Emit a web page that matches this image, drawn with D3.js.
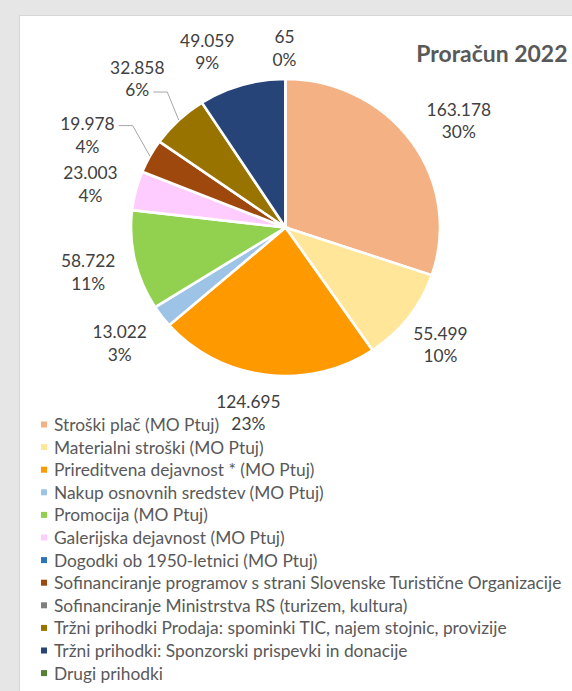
<!DOCTYPE html>
<html><head><meta charset="utf-8">
<script src="https://cdn.jsdelivr.net/npm/d3@7"></script>
<style>html,body{margin:0;padding:0;background:#e6e6e6;overflow:hidden}</style>
</head><body><svg id="c" width="572" height="691"></svg>
<script>
const title = "Proračun 2022";
const categories = [
  "Stroški plač (MO Ptuj)",
  "Materialni stroški (MO Ptuj)",
  "Prireditvena dejavnost * (MO Ptuj)",
  "Nakup osnovnih sredstev (MO Ptuj)",
  "Promocija (MO Ptuj)",
  "Galerijska dejavnost (MO Ptuj)",
  "Dogodki ob 1950-letnici (MO Ptuj)",
  "Sofinanciranje programov s strani Slovenske Turistične Organizacije",
  "Sofinanciranje Ministrstva RS (turizem, kultura)",
  "Tržni prihodki Prodaja: spominki TIC, najem stojnic, provizije",
  "Tržni prihodki: Sponzorski prispevki in donacije",
  "Drugi prihodki"
];
const values = [163178, 55499, 124695, 13022, 58722, 23003, 0, 19978, 0, 32858, 49059, 65];
const colors = ["#F4B183","#FFE699","#FF9900","#9DC3E6","#92D050","#FFCCFF","#2E75B6","#9E480E","#7F7F7F","#997300","#264478","#548235"];

// layout (not data): label nudges from the outside-end position
const labelNudge = {0:[13,-1], 1:[2,7], 2:[-12,5], 3:[-12,7], 4:[-10,4], 5:[-9,1.5], 7:[-29.5,-5.5], 9:[-15.5,-17.5], 10:[-24,-2], 11:[-1,2]};
const leaderLine = {7:0, 9:1};

const fmt = d3.formatLocale({thousands:".", decimal:",", grouping:[3], currency:["","€"]}).format(",d");
const total = d3.sum(values);
// largest remainder percentages (as Excel)
const raw = values.map(v => v/total*100);
const pct = raw.map(Math.floor);
let rest = 100 - d3.sum(pct);
raw.map((r,i)=>[r-Math.floor(r),i]).sort((a,b)=>b[0]-a[0]).slice(0,rest).forEach(([_,i])=>pct[i]++);

const data = categories.map((c,i)=>({name:c, value:values[i], color:colors[i], i, vl:fmt(values[i]), pl:pct[i]+"%"}));

const svg = d3.select("#c");
svg.append("rect").attr("x",19.5).attr("y",15.5).attr("width",600).attr("height",700)
  .attr("fill","#fff").attr("stroke","#d6d6d6");

const FONT = "Lato, 'Open Sans', sans-serif";
const meas = svg.append("text").attr("font-family",FONT).attr("font-size",17).text(categories[7]);
const kx = 508 / meas.node().getComputedTextLength();
meas.remove();

const cx = 285.5, cy = 227.5, R = 148.5, sx = 154.5/148.5;
const pie = d3.pie().sort(null).value(d=>d.value).startAngle(0).endAngle(2*Math.PI);
const arcs = pie(data);
const arc = d3.arc().innerRadius(0).outerRadius(R);
const pg = svg.append("g").attr("transform",`translate(${cx},${cy}) scale(${sx},1)`);
pg.selectAll("path").data(arcs.filter(a=>a.data.value>0)).join("path")
  .attr("d",arc).attr("fill",d=>d.data.color)
  .attr("stroke","#fff").attr("stroke-width",2.6).attr("vector-effect","non-scaling-stroke");

// labels
const lg = svg.append("g");
const g = 10, H = 46, LH = 22.5;
arcs.filter(a=>a.data.value>0).forEach(a=>{
  const th = (a.startAngle+a.endAngle)/2, s = Math.sin(th), c = Math.cos(th);
  const t = lg.append("g");
  const lines = [a.data.vl, a.data.pl];
  const ws = [];
  lines.forEach((txt,k)=>{
    const tt = t.append("text").attr("font-family",FONT).attr("font-size",17).attr("fill","#404040")
      .attr("text-anchor","middle").attr("dominant-baseline","central")
      .attr("y",(k-0.5)*LH).text(txt);
    ws.push(tt.node().getComputedTextLength()*kx);
  });
  const w = d3.max(ws);
  const px = cx + (R+g)*s*sx, py = cy - (R+g)*c;
  const n = labelNudge[a.data.i] || [0,0];
  const bx = px + s*w/2 + n[0], by = py - c*H/2 + n[1];
  t.attr("transform",`translate(${bx},${by}) scale(${kx},1)`);
  if (a.data.i in leaderLine) {
    const li = leaderLine[a.data.i];
    const x0 = bx + ws[li]/2 + 4, y0 = by + (li-0.5)*LH + 2;
    const ex = cx + R*s*sx, ey = cy - R*c;
    svg.append("polyline").attr("points",`${x0},${y0} ${x0+14},${y0} ${ex},${ey}`)
      .attr("fill","none").attr("stroke","#a6a6a6").attr("stroke-width",1);
  }
});

// title
svg.append("g").attr("transform",`translate(567.5,54) scale(${kx},1)`)
  .append("text").attr("font-family",FONT).attr("font-size",22.5).attr("font-weight","bold")
  .attr("fill","#595959").attr("text-anchor","end").attr("dominant-baseline","central").text(title);

// legend
const leg = svg.append("g");
data.forEach((d,i)=>{
  const y = 424.5 + i*22.6;
  leg.append("rect").attr("x",41).attr("y",y-3).attr("width",6).attr("height",6).attr("fill",d.color);
  leg.append("g").attr("transform",`translate(54,${y}) scale(${kx},1)`)
    .append("text").attr("font-family",FONT).attr("font-size",17).attr("fill","#595959")
    .attr("dominant-baseline","central").text(d.name);
});
</script></body></html>
